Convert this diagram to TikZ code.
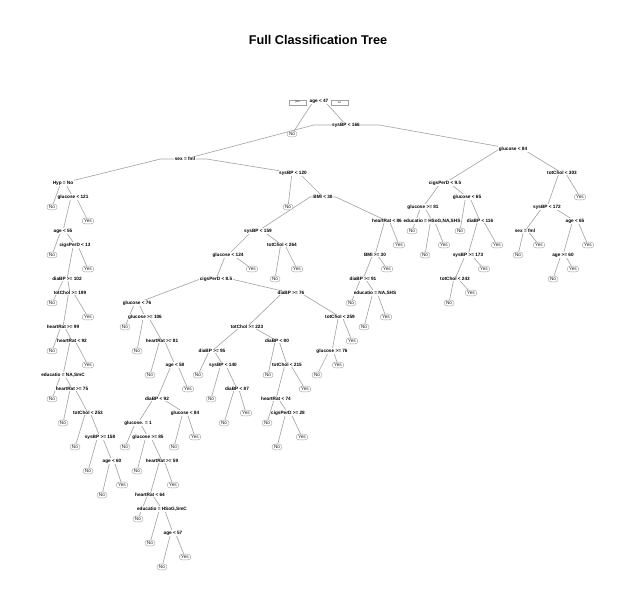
\documentclass[tikz,border=0pt]{standalone}
\usepackage{fontspec}
\setmainfont{Liberation Sans}
\usetikzlibrary{calc,backgrounds,shapes.misc}

% one branch: short flat shoulder at the parent's level, then straight to the child
\newcommand\tedge[2]{\draw[brline] let \p1=(#1.center), \p2=(#2.center) in
  (\p1) -- ({\x1+0.2*(\x2-\x1)},\y1) -- (\p2);}

\tikzset{
  sp/.style={fill=white, inner sep=0.5pt, font=\fontsize{4.7}{5}\selectfont\bfseries},
  lf/.style={rounded rectangle, draw=gray!75, line width=0.4pt, fill=white,
             inner xsep=1.5pt, inner ysep=1.2pt, text=black!85,
             font=\fontsize{4.7}{5}\selectfont},
  tagbox/.style={draw=gray!75, line width=0.4pt, fill=white, inner sep=0pt,
             minimum width=17pt, minimum height=4.5pt, font=\fontsize{2.8}{3}\selectfont},
  brline/.style={draw=gray!70, line width=0.65pt},
}

\begin{document}
\begin{tikzpicture}[x=1pt,y=-1pt]
\useasboundingbox (0,0) rectangle (636,611);

\node[font=\fontsize{12.7}{14}\selectfont\bfseries] (title) at (318,40) {Full Classification Tree};

% root
\node[sp] (r) at (319,101) {age < 47};
\node[tagbox] (yesbox) at (297.5,102.5) {yes};
\node[tagbox] (nobox) at (339.5,102.5) {no};
\node[lf] (rL) at (292,134) {No};
\node[sp] (s166) at (346,125) {sysBP < 166};
\node[sp] (fml) at (185,159) {sex = fml};
\node[sp] (g84) at (513,149) {glucose < 84};

% left chain under sex = fml
\node[sp] (hyp) at (63,183) {Hyp = No};
\node[lf] (hypL) at (52,207) {No};
\node[sp] (g121) at (73,197) {glucose < 121};
\node[sp] (a55) at (63,231) {age < 55};
\node[lf] (g121R) at (88,221) {Yes};
\node[lf] (a55L) at (52,255) {No};
\node[sp] (c13) at (75,245) {cigsPerD < 13};
\node[sp] (d102) at (67,279) {diaBP >= 102};
\node[lf] (c13R) at (88,269) {Yes};
\node[lf] (d102L) at (52,303) {No};
\node[sp] (t199) at (70,293) {totChol >= 199};
\node[sp] (h99) at (63,327) {heartRat >= 99};
\node[lf] (t199R) at (88,317) {Yes};
\node[lf] (h99L) at (52,351) {No};
\node[sp] (h92) at (72,341) {heartRat < 92};
\node[sp] (edA) at (63,375) {educatio = NA,SmC};
\node[lf] (h92R) at (88,365) {Yes};
\node[lf] (edAL) at (52,399) {No};
\node[sp] (h75) at (72,389) {heartRat >= 75};
\node[lf] (h75L) at (63,423) {No};
\node[sp] (t253) at (88,413) {totChol < 253};
\node[lf] (t253L) at (75,447) {No};
\node[sp] (s158) at (100,437) {sysBP >= 158};
\node[lf] (s158L) at (88,471) {No};
\node[sp] (a60) at (112,461) {age < 60};
\node[lf] (a60L) at (102,495) {No};
\node[lf] (a60R) at (122,485) {Yes};

% sysBP < 120 subtree
\node[sp] (s120) at (293,173) {sysBP < 120};
\node[lf] (s120L) at (288,207) {No};
\node[sp] (b30) at (323,197) {BMI < 30};
\node[sp] (s159) at (258,231) {sysBP < 159};
\node[sp] (h86) at (387,221) {heartRat < 86};
\node[sp] (g124) at (228,255) {glucose < 124};
\node[sp] (t264) at (282,245) {totChol < 264};
\node[sp] (c85) at (216,279) {cigsPerD < 8.5};
\node[lf] (g124R) at (252,269) {Yes};
\node[lf] (t264L) at (275,279) {No};
\node[lf] (t264R) at (297,269) {Yes};
\node[sp] (g76) at (137,303) {glucose < 76};
\node[sp] (d76) at (291,293) {diaBP >= 76};
\node[lf] (g76L) at (125,327) {No};
\node[sp] (g106) at (145,317) {glucose >= 106};
\node[lf] (g106L) at (137,351) {No};
\node[sp] (h81) at (162,341) {heartRat >= 81};
\node[lf] (h81L) at (150,375) {No};
\node[sp] (a58) at (175,365) {age < 58};
\node[sp] (d92) at (157,399) {diaBP < 92};
\node[lf] (a58R) at (188,389) {Yes};
\node[sp] (gd1) at (138,423) {glucose. = 1};
\node[sp] (g84b) at (185,413) {glucose < 84};
\node[lf] (gd1L) at (125,447) {No};
\node[sp] (g85) at (148,437) {glucose >= 85};
\node[lf] (g85L) at (137,471) {No};
\node[sp] (h59) at (162,461) {heartRat >= 59};
\node[sp] (h64) at (150,495) {heartRat < 64};
\node[lf] (h59R) at (173,485) {Yes};
\node[lf] (h64L) at (138,519) {No};
\node[sp] (edB) at (162,509) {educatio = HSoG,SmC};
\node[lf] (edBL) at (150,543) {No};
\node[sp] (a57) at (173,533) {age < 57};
\node[lf] (a57L) at (162,567) {No};
\node[lf] (a57R) at (185,557) {Yes};
\node[lf] (g84bL) at (174,447) {No};
\node[lf] (g84bR) at (195,437) {Yes};

\node[sp] (t223) at (247,327) {totChol >= 223};
\node[sp] (t259) at (340,317) {totChol < 259};
\node[sp] (d95) at (212,351) {diaBP >= 95};
\node[sp] (d80) at (277,341) {diaBP < 80};
\node[lf] (d95L) at (198,375) {No};
\node[sp] (s140) at (223,365) {sysBP < 140};
\node[lf] (s140L) at (211,399) {No};
\node[sp] (d87) at (237,389) {diaBP < 87};
\node[lf] (d87L) at (224,423) {No};
\node[lf] (d87R) at (246,413) {Yes};
\node[lf] (d80L) at (268,375) {No};
\node[sp] (t215) at (287,365) {totChol < 215};
\node[sp] (h74) at (276,399) {heartRat < 74};
\node[lf] (t215R) at (305,389) {Yes};
\node[lf] (h74L) at (267,423) {No};
\node[sp] (c28) at (288,413) {cigsPerD >= 28};
\node[lf] (c28L) at (277,447) {No};
\node[lf] (c28R) at (302,437) {Yes};
\node[sp] (g76b) at (332,351) {glucose >= 76};
\node[lf] (t259R) at (352,341) {Yes};
\node[lf] (g76bL) at (317,375) {No};
\node[lf] (g76bR) at (338,365) {Yes};

\node[sp] (b30b) at (375,255) {BMI >= 30};
\node[lf] (h86R) at (399,245) {Yes};
\node[sp] (d91) at (363,279) {diaBP >= 91};
\node[lf] (b30bR) at (387,269) {Yes};
\node[lf] (d91L) at (351,303) {No};
\node[sp] (edC) at (375,293) {educatio = NA,SHS};
\node[lf] (edCL) at (364,327) {No};
\node[lf] (edCR) at (386,317) {Yes};

% glucose < 84 subtree
\node[sp] (c95) at (445,183) {cigsPerD < 9.5};
\node[sp] (t303) at (562,173) {totChol < 303};
\node[sp] (g81) at (423,207) {glucose >= 81};
\node[sp] (g65) at (467,197) {glucose < 65};
\node[lf] (g81L) at (412,231) {No};
\node[sp] (edD) at (432,221) {educatio = HSoG,NA,SHS};
\node[lf] (edDL) at (425,255) {No};
\node[lf] (edDR) at (444,245) {Yes};
\node[lf] (g65L) at (460,231) {No};
\node[sp] (d116) at (480,221) {diaBP < 116};
\node[sp] (s173) at (468,255) {sysBP >= 173};
\node[lf] (d116R) at (497,245) {Yes};
\node[sp] (t243) at (455,279) {totChol < 243};
\node[lf] (s173R) at (484,269) {Yes};
\node[lf] (t243L) at (449,303) {No};
\node[lf] (t243R) at (471,293) {Yes};
\node[sp] (s172) at (547,207) {sysBP < 172};
\node[lf] (t303R) at (580,197) {Yes};
\node[sp] (fml2) at (525,231) {sex = fml};
\node[sp] (a65) at (575,221) {age < 65};
\node[lf] (fml2L) at (518,255) {No};
\node[lf] (fml2R) at (539,245) {Yes};
\node[sp] (a60b) at (563,255) {age >= 60};
\node[lf] (a65R) at (588,245) {Yes};
\node[lf] (a60bL) at (553,279) {No};
\node[lf] (a60bR) at (573,269) {Yes};

\begin{pgfonlayer}{background}
\tedge{r}{rL} \tedge{r}{s166}
\tedge{s166}{fml} \tedge{s166}{g84}
\tedge{fml}{hyp} \tedge{fml}{s120}
\tedge{hyp}{hypL} \tedge{hyp}{g121}
\tedge{g121}{a55} \tedge{g121}{g121R}
\tedge{a55}{a55L} \tedge{a55}{c13}
\tedge{c13}{d102} \tedge{c13}{c13R}
\tedge{d102}{d102L} \tedge{d102}{t199}
\tedge{t199}{h99} \tedge{t199}{t199R}
\tedge{h99}{h99L} \tedge{h99}{h92}
\tedge{h92}{edA} \tedge{h92}{h92R}
\tedge{edA}{edAL} \tedge{edA}{h75}
\tedge{h75}{h75L} \tedge{h75}{t253}
\tedge{t253}{t253L} \tedge{t253}{s158}
\tedge{s158}{s158L} \tedge{s158}{a60}
\tedge{a60}{a60L} \tedge{a60}{a60R}
\tedge{s120}{s120L} \tedge{s120}{b30}
\tedge{b30}{s159} \tedge{b30}{h86}
\tedge{s159}{g124} \tedge{s159}{t264}
\tedge{g124}{c85} \tedge{g124}{g124R}
\tedge{t264}{t264L} \tedge{t264}{t264R}
\tedge{c85}{g76} \tedge{c85}{d76}
\tedge{g76}{g76L} \tedge{g76}{g106}
\tedge{g106}{g106L} \tedge{g106}{h81}
\tedge{h81}{h81L} \tedge{h81}{a58}
\tedge{a58}{d92} \tedge{a58}{a58R}
\tedge{d92}{gd1} \tedge{d92}{g84b}
\tedge{gd1}{gd1L} \tedge{gd1}{g85}
\tedge{g85}{g85L} \tedge{g85}{h59}
\tedge{h59}{h64} \tedge{h59}{h59R}
\tedge{h64}{h64L} \tedge{h64}{edB}
\tedge{edB}{edBL} \tedge{edB}{a57}
\tedge{a57}{a57L} \tedge{a57}{a57R}
\tedge{g84b}{g84bL} \tedge{g84b}{g84bR}
\tedge{d76}{t223} \tedge{d76}{t259}
\tedge{t223}{d95} \tedge{t223}{d80}
\tedge{d95}{d95L} \tedge{d95}{s140}
\tedge{s140}{s140L} \tedge{s140}{d87}
\tedge{d87}{d87L} \tedge{d87}{d87R}
\tedge{d80}{d80L} \tedge{d80}{t215}
\tedge{t215}{h74} \tedge{t215}{t215R}
\tedge{h74}{h74L} \tedge{h74}{c28}
\tedge{c28}{c28L} \tedge{c28}{c28R}
\tedge{t259}{g76b} \tedge{t259}{t259R}
\tedge{g76b}{g76bL} \tedge{g76b}{g76bR}
\tedge{h86}{b30b} \tedge{h86}{h86R}
\tedge{b30b}{d91} \tedge{b30b}{b30bR}
\tedge{d91}{d91L} \tedge{d91}{edC}
\tedge{edC}{edCL} \tedge{edC}{edCR}
\tedge{g84}{c95} \tedge{g84}{t303}
\tedge{c95}{g81} \tedge{c95}{g65}
\tedge{g81}{g81L} \tedge{g81}{edD}
\tedge{edD}{edDL} \tedge{edD}{edDR}
\tedge{g65}{g65L} \tedge{g65}{d116}
\tedge{d116}{s173} \tedge{d116}{d116R}
\tedge{s173}{t243} \tedge{s173}{s173R}
\tedge{t243}{t243L} \tedge{t243}{t243R}
\tedge{t303}{s172} \tedge{t303}{t303R}
\tedge{s172}{fml2} \tedge{s172}{a65}
\tedge{fml2}{fml2L} \tedge{fml2}{fml2R}
\tedge{a65}{a60b} \tedge{a65}{a65R}
\tedge{a60b}{a60bL} \tedge{a60b}{a60bR}
\end{pgfonlayer}
\end{tikzpicture}
\end{document}
